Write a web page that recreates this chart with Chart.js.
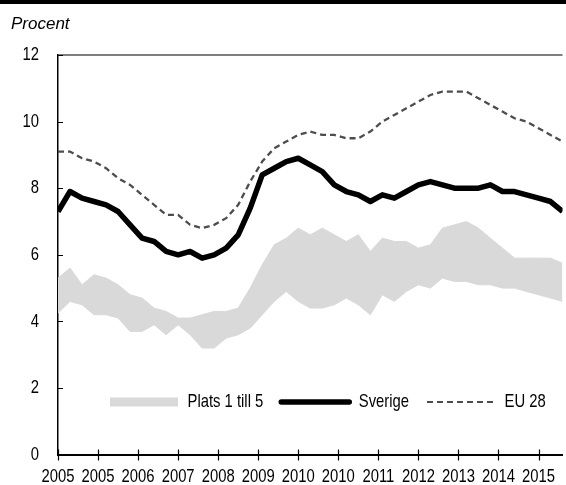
<!DOCTYPE html>
<html lang="sv">
<head>
<meta charset="utf-8">
<script src="https://cdn.jsdelivr.net/npm/chart.js@4.4.1/dist/chart.umd.min.js"></script>
<style>
  html, body { margin: 0; padding: 0; background: #fff; }
  #wrap { position: relative; width: 566px; height: 485px; overflow: hidden; }
  #topbar { position: absolute; left: 0; top: 0; width: 566px; height: 4px; background: #000; }
  #unit { position: absolute; left: 11px; top: 15px; font: italic 17px/17px "Liberation Sans", Arial, sans-serif; color: #000; }
  canvas { position: absolute; left: 0; top: 0; }
</style>
</head>
<body>
<div id="wrap">
  <canvas id="chart" width="566" height="485"></canvas>
  <div id="topbar"></div>
  <div id="unit">Procent</div>
</div>
<script>
// ============================================
// Data (quarterly, 2005 K1 - 2015 K3)
// ============================================

const quarters = [];
for (let year = 2005; year <= 2015; year++) {
    for (let q = 1; q <= 4; q++) {
        if (year === 2015 && q > 3) break;
        quarters.push(year + ' K' + q);
    }
}

const sverige = [
    7.3, 7.9, 7.7, 7.6, 7.5, 7.3, 6.9, 6.5, 6.4, 6.1,
    6.0, 6.1, 5.9, 6.0, 6.2, 6.6, 7.4, 8.4, 8.6, 8.8,
    8.9, 8.7, 8.5, 8.1, 7.9, 7.8, 7.6, 7.8, 7.7, 7.9,
    8.1, 8.2, 8.1, 8.0, 8.0, 8.0, 8.1, 7.9, 7.9, 7.8,
    7.7, 7.6, 7.3
];

const eu28 = [
    9.1, 9.1, 8.9, 8.8, 8.6, 8.3, 8.1, 7.8, 7.5, 7.2,
    7.2, 6.9, 6.8, 6.9, 7.1, 7.5, 8.2, 8.8, 9.2, 9.4,
    9.6, 9.7, 9.6, 9.6, 9.5, 9.5, 9.7, 10.0, 10.2, 10.4,
    10.6, 10.8, 10.9, 10.9, 10.9, 10.7, 10.5, 10.3, 10.1, 10.0,
    9.8, 9.6, 9.4
];

// Top five countries: upper and lower edge of the band
const bandHigh = [
    5.3, 5.6, 5.1, 5.4, 5.3, 5.1, 4.8, 4.7, 4.4, 4.3,
    4.1, 4.1, 4.2, 4.3, 4.3, 4.4, 5.0, 5.7, 6.3, 6.5,
    6.8, 6.6, 6.8, 6.6, 6.4, 6.6, 6.1, 6.5, 6.4, 6.4,
    6.2, 6.3, 6.8, 6.9, 7.0, 6.8, 6.5, 6.2, 5.9, 5.9,
    5.9, 5.9, 5.75
];

const bandLow = [
    4.25, 4.6, 4.5, 4.2, 4.2, 4.1, 3.7, 3.7, 3.9, 3.6,
    3.9, 3.6, 3.2, 3.2, 3.5, 3.6, 3.8, 4.2, 4.6, 4.9,
    4.6, 4.4, 4.4, 4.5, 4.7, 4.5, 4.2, 4.8, 4.6, 4.9,
    5.1, 5.0, 5.3, 5.2, 5.2, 5.1, 5.1, 5.0, 5.0, 4.9,
    4.8, 4.7, 4.6
];

// Date axis: a tick every 10 months from January 2005
const xTickMonths = [0, 10, 20, 30, 40, 50, 60, 70, 80, 90, 100, 110, 120];
const xTickLabels = ['2005', '2005', '2006', '2007', '2008', '2009', '2010', '2010', '2011', '2012', '2013', '2014', '2015'];
const legendNames = ['Plats 1 till 5', 'Sverige', 'EU 28'];

// ============================================
// Helpers
// ============================================

const FONT = "'Liberation Sans', Arial, sans-serif";
const FONT_SIZE = 19;
const NARROW = 0.78; // squeeze text to look like a condensed face
const BAND_GREY = '#d9d9d9';

// Quarter index -> months since January 2005
function toPoints(values) {
    return values.map((v, i) => ({ x: i * 3, y: v }));
}

// No condensed font is installed, so squeeze the canvas text horizontally
const canvas = document.getElementById('chart');
const ctx2d = canvas.getContext('2d');
const baseFillText = ctx2d.fillText.bind(ctx2d);
const baseMeasureText = ctx2d.measureText.bind(ctx2d);
ctx2d.fillText = function (text, x, y, maxWidth) {
    this.save();
    this.translate(x, y);
    this.scale(NARROW, 1);
    if (maxWidth === undefined) baseFillText(text, 0, 0);
    else baseFillText(text, 0, 0, maxWidth / NARROW);
    this.restore();
};
ctx2d.measureText = function (text) {
    const m = baseMeasureText(text);
    return {
        width: m.width * NARROW,
        actualBoundingBoxLeft: m.actualBoundingBoxLeft * NARROW,
        actualBoundingBoxRight: m.actualBoundingBoxRight * NARROW,
        actualBoundingBoxAscent: m.actualBoundingBoxAscent,
        actualBoundingBoxDescent: m.actualBoundingBoxDescent
    };
};

// Move the legend into the plot area, above the x axis
const legendInside = {
    id: 'legendInside',
    afterLayout(chart) {
        const lg = chart.legend;
        const pad = 18;
        lg.left = 110 - pad;
        lg.right = chart.width + 60;
        lg.width = lg.right - lg.left;
        lg.top = 402 - pad - FONT_SIZE / 2;
        lg.height = FONT_SIZE + pad * 2;
        lg.bottom = lg.top + lg.height;
    }
};

// Top frame line and the small tick marks on the axes
const axisDecor = {
    id: 'axisDecor',
    afterDraw(chart) {
        const { ctx, chartArea: a, scales: { x, y } } = chart;
        ctx.save();
        ctx.strokeStyle = '#555';
        ctx.lineWidth = 1.5;
        ctx.beginPath();
        ctx.moveTo(a.left, a.top);
        ctx.lineTo(a.right, a.top);
        ctx.stroke();

        ctx.strokeStyle = '#000';
        ctx.lineWidth = 1.2;
        ctx.beginPath();
        y.ticks.forEach(t => {
            const py = Math.round(y.getPixelForValue(t.value)) + 0.5;
            ctx.moveTo(a.left, py);
            ctx.lineTo(a.left + 5, py);
        });
        x.ticks.forEach(t => {
            const px = Math.round(x.getPixelForValue(t.value)) + 0.5;
            ctx.moveTo(px, a.bottom - 5);
            ctx.lineTo(px, a.bottom + 6);
        });
        ctx.stroke();
        ctx.restore();
    }
};

// ============================================
// Chart
// ============================================

new Chart(canvas, {
    type: 'line',
    data: {
        datasets: [
            {
                label: legendNames[1],
                data: toPoints(sverige),
                borderColor: '#000',
                borderWidth: 5.5,
                borderJoinStyle: 'round',
                pointRadius: 0,
                fill: false
            },
            {
                label: legendNames[2],
                data: toPoints(eu28),
                borderColor: '#4d4d4d',
                borderWidth: 2.3,
                borderDash: [6, 4],
                pointRadius: 0,
                fill: false
            },
            {
                label: legendNames[0],
                data: toPoints(bandHigh),
                borderColor: BAND_GREY,
                borderWidth: 1,
                backgroundColor: BAND_GREY,
                pointRadius: 0,
                fill: '+1'
            },
            {
                label: 'low',
                data: toPoints(bandLow),
                borderColor: BAND_GREY,
                borderWidth: 1,
                pointRadius: 0,
                fill: false
            }
        ]
    },
    options: {
        responsive: false,
        animation: false,
        devicePixelRatio: 1,
        layout: { padding: { top: 55, left: 0, right: 0, bottom: 0 } },
        plugins: {
            tooltip: { enabled: false },
            legend: {
                position: 'bottom',
                align: 'start',
                maxHeight: 0.001,
                labels: {
                    usePointStyle: true,
                    pointStyleWidth: 68,
                    boxHeight: 9,
                    padding: 18,
                    color: '#000',
                    font: { family: FONT, size: FONT_SIZE },
                    generateLabels: () => [
                        { text: legendNames[0], pointStyle: 'rect', fillStyle: BAND_GREY, strokeStyle: BAND_GREY, lineWidth: 0, fontColor: '#000', datasetIndex: 2 },
                        { text: legendNames[1], pointStyle: 'line', fillStyle: '#000', strokeStyle: '#000', lineWidth: 5.5, lineCap: 'round', fontColor: '#000', datasetIndex: 0 },
                        { text: legendNames[2], pointStyle: 'line', fillStyle: '#4d4d4d', strokeStyle: '#4d4d4d', lineWidth: 2.2, lineDash: [6, 4], fontColor: '#000', datasetIndex: 1 }
                    ]
                }
            }
        },
        scales: {
            x: {
                type: 'linear',
                min: 0,
                max: (quarters.length - 1) * 3,
                afterBuildTicks: scale => { scale.ticks = xTickMonths.map(v => ({ value: v })); },
                afterFit: scale => { scale.height = 30; },
                grid: { display: false, drawTicks: false },
                border: { display: true, color: '#000', width: 2 },
                ticks: {
                    autoSkip: false,
                    maxRotation: 0,
                    padding: 11,
                    color: '#000',
                    font: { family: FONT, size: FONT_SIZE },
                    callback: (value, index) => xTickLabels[index]
                }
            },
            y: {
                min: 0,
                max: 12,
                afterFit: scale => { scale.width = 58; },
                grid: { display: false, drawTicks: false },
                border: { display: true, color: '#000', width: 1.5 },
                ticks: {
                    stepSize: 2,
                    padding: 19,
                    color: '#000',
                    font: { family: FONT, size: FONT_SIZE }
                }
            }
        }
    },
    plugins: [legendInside, axisDecor]
});
</script>
</body>
</html>
